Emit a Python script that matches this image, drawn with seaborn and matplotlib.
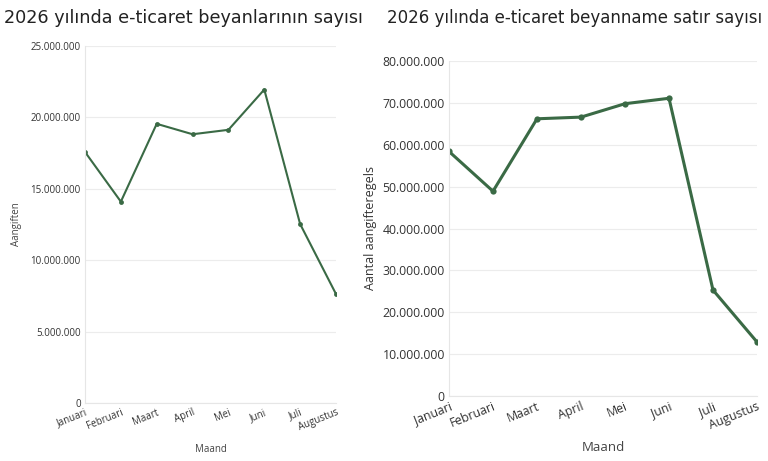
import matplotlib
matplotlib.use("Agg")
import matplotlib.pyplot as plt
import matplotlib.ticker as mticker
import seaborn as sns
import pandas as pd

# maandelijkse aantallen e-commerce aangiften 2026
maanden = ['Januari', 'Februari', 'Maart', 'April', 'Mei', 'Juni', 'Juli', 'Augustus']
aangiften = [17580000, 14100000, 19550000, 18820000, 19130000, 21950000, 12530000, 7630000]
aangifteregels = [58400000, 48900000, 66200000, 66600000, 69800000, 71100000, 25300000, 12900000]

left_ticks = [0, 5000000, 10000000, 15000000, 20000000, 25000000]
right_ticks = [0, 10000000, 20000000, 30000000, 40000000, 50000000, 60000000, 70000000, 80000000]

df = pd.DataFrame({'Maand': maanden, 'Aangiften': aangiften, 'Aantal aangifteregels': aangifteregels})

sns.set_style('white')
plt.rcParams['font.family'] = ['Open Sans', 'DejaVu Sans']

W, H = 768, 461
fig = plt.figure(figsize=(W / 100, H / 100), dpi=100)

def px_axes(x0, y0, x1, y1):
    return fig.add_axes([x0 / W, 1 - y1 / H, (x1 - x0) / W, (y1 - y0) / H])

ax1 = px_axes(85, 46, 336, 403)
ax2 = px_axes(449, 61, 757, 396)

green = '#3a6a45'
dots = lambda v: f'{int(v):,}'.replace(',', '.')

def style(ax, col, ticks, fs, lw, ms):
    sns.lineplot(data=df, x='Maand', y=col, ax=ax, color=green, linewidth=lw,
                 marker='o', markersize=ms, markeredgewidth=0, sort=False)
    ax.set_xlim(0, len(maanden) - 1)
    ax.set_ylim(ticks[0], ticks[-1])
    ax.set_yticks(ticks)
    ax.yaxis.set_major_formatter(mticker.FuncFormatter(lambda v, p: dots(v)))
    ax.grid(axis='y', color='#ececec', linewidth=0.8)
    ax.set_axisbelow(True)
    for s in ['top', 'right']:
        ax.spines[s].set_visible(False)
    for s in ['left', 'bottom']:
        ax.spines[s].set_color('#e6e6e6')
        ax.spines[s].set_linewidth(0.8)
    ax.tick_params(axis='both', length=0, labelsize=fs, colors='#333333', pad=3)
    plt.setp(ax.get_xticklabels(), rotation=22, ha='right', rotation_mode='anchor')

style(ax1, 'Aangiften', left_ticks, 7, 1.5, 3.5)
ax1.set_xlabel('Maand', fontsize=7, color='#444444', labelpad=8)
ax1.set_ylabel('Aangiften', fontsize=7, color='#444444', labelpad=6)

style(ax2, 'Aantal aangifteregels', right_ticks, 8.8, 2.2, 4.5)
ax2.set_xlabel('Maand', fontsize=9.5, color='#444444', labelpad=6)
ax2.set_ylabel('Aantal aangifteregels', fontsize=9, color='#333333', labelpad=4)

fig.text(183 / W, 1 - 18 / H, '2026 yılında e-ticaret beyanlarının sayısı',
         ha='center', va='center', fontsize=12.7, family='DejaVu Sans', color='#222222')
fig.text(575 / W, 1 - 18 / H, '2026 yılında e-ticaret beyanname satır sayısı',
         ha='center', va='center', fontsize=12, family='DejaVu Sans', color='#222222')

fig.savefig('out.png', dpi=100)
